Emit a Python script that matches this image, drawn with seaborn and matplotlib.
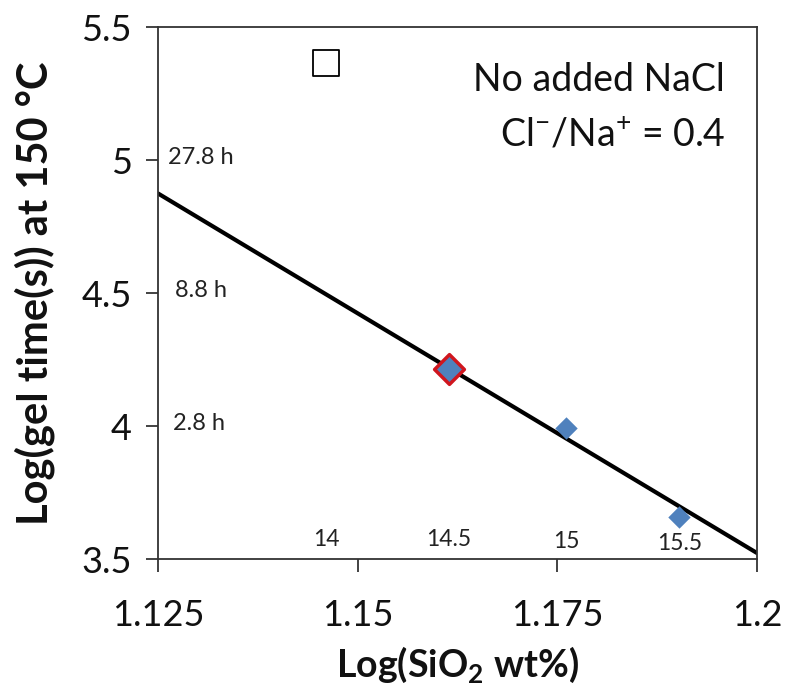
import numpy as np
import pandas as pd
import matplotlib
matplotlib.use("Agg")
import matplotlib.pyplot as plt
import seaborn as sns

# ---- data ----
sio2_wt = [14.5, 15.0, 15.5]
log_sio2 = [1.1614, 1.1761, 1.1903]
log_gel = [4.215, 3.993, 3.658]

open_x = [1.1461]
open_y = [5.365]

fit_x = [1.125, 1.2]
fit_y = [4.875, 3.523]

hour_labels = ["27.8 h", "8.8 h", "2.8 h"]
hour_y = [5.0, 4.5, 4.0]

conc_labels = ["14", "14.5", "15", "15.5"]
conc_x = [1.1461, 1.1614, 1.1761, 1.1903]

x_ticks = [1.125, 1.15, 1.175, 1.2]
x_ticklabels = ["1.125", "1.15", "1.175", "1.2"]
y_ticks = [3.5, 4.0, 4.5, 5.0, 5.5]
y_ticklabels = ["3.5", "4", "4.5", "5", "5.5"]

sns.set_theme(style="white")
plt.rcParams['font.family'] = ['Lato', 'DejaVu Sans']
plt.rcParams['mathtext.fontset'] = 'custom'
plt.rcParams['mathtext.rm'] = 'Lato'
plt.rcParams['mathtext.bf'] = 'Lato:bold'

fig = plt.figure(figsize=(7.86, 6.98), dpi=100)
ax = fig.add_axes([0.201, 0.199, 0.762, 0.762])

df_pts = pd.DataFrame({"x": log_sio2, "y": log_gel})
df_fit = pd.DataFrame({"x": fit_x, "y": fit_y})
df_open = pd.DataFrame({"x": open_x, "y": open_y})

sns.lineplot(data=df_fit, x="x", y="y", ax=ax, color="black", lw=3, zorder=2)
sns.scatterplot(data=df_pts.iloc[[0]], x="x", y="y", ax=ax, marker="D", s=230,
                color="#4F81BD", edgecolor="#D0161E", linewidth=2.5, zorder=3)
sns.scatterplot(data=df_pts.iloc[1:], x="x", y="y", ax=ax, marker="D", s=130,
                color="#4F81BD", edgecolor="#4F81BD", linewidth=0, zorder=3)
sns.scatterplot(data=df_open, x="x", y="y", ax=ax, marker="s", s=360,
                color="white", edgecolor="black", linewidth=1.3, zorder=3)

hour_x = [1.1262, 1.1271, 1.1269]
for lab, xv, yv in zip(hour_labels, hour_x, hour_y):
    ax.text(xv, yv + 0.01, lab, fontsize=17, ha="left", va="center", color="#222222")
conc_y = [3.575, 3.572, 3.565, 3.56]
for lab, xv, yv in zip(conc_labels, conc_x, conc_y):
    ax.text(xv, yv, lab, fontsize=16.5, ha="center", va="center", color="#222222")

ax.text(0.947, 0.9, "No added NaCl", transform=ax.transAxes, fontsize=27,
        ha="right", va="center", color="#111111")
ax.text(0.947, 0.797, "Cl$^{-}$/Na$^{+}$ = 0.4", transform=ax.transAxes, fontsize=27,
        ha="right", va="center", color="#111111")

ax.set_xlim(1.125, 1.2)
ax.set_ylim(3.5, 5.5)
ax.set_xticks(x_ticks)
ax.set_xticklabels(x_ticklabels)
ax.set_yticks(y_ticks)
ax.set_yticklabels(y_ticklabels)
ax.tick_params(axis="both", direction="out", length=9, width=1.2, color="#222222",
               labelsize=26, labelcolor="#111111", bottom=True, left=True)
ax.tick_params(axis="y", pad=10)
ax.tick_params(axis="x", pad=20)

for s in ax.spines.values():
    s.set_color("#333333")
    s.set_linewidth(1.3)

ax.set_xlabel(r"Log(SiO$_\mathbf{2}$ wt%)", fontsize=27, fontweight="bold",
              labelpad=9, color="#111111")
ax.set_ylabel("Log(gel time(s)) at 150 °C", fontsize=30, fontweight="bold",
              labelpad=19, color="#111111")
ax.grid(False)

fig.savefig("out.png", dpi=100)
